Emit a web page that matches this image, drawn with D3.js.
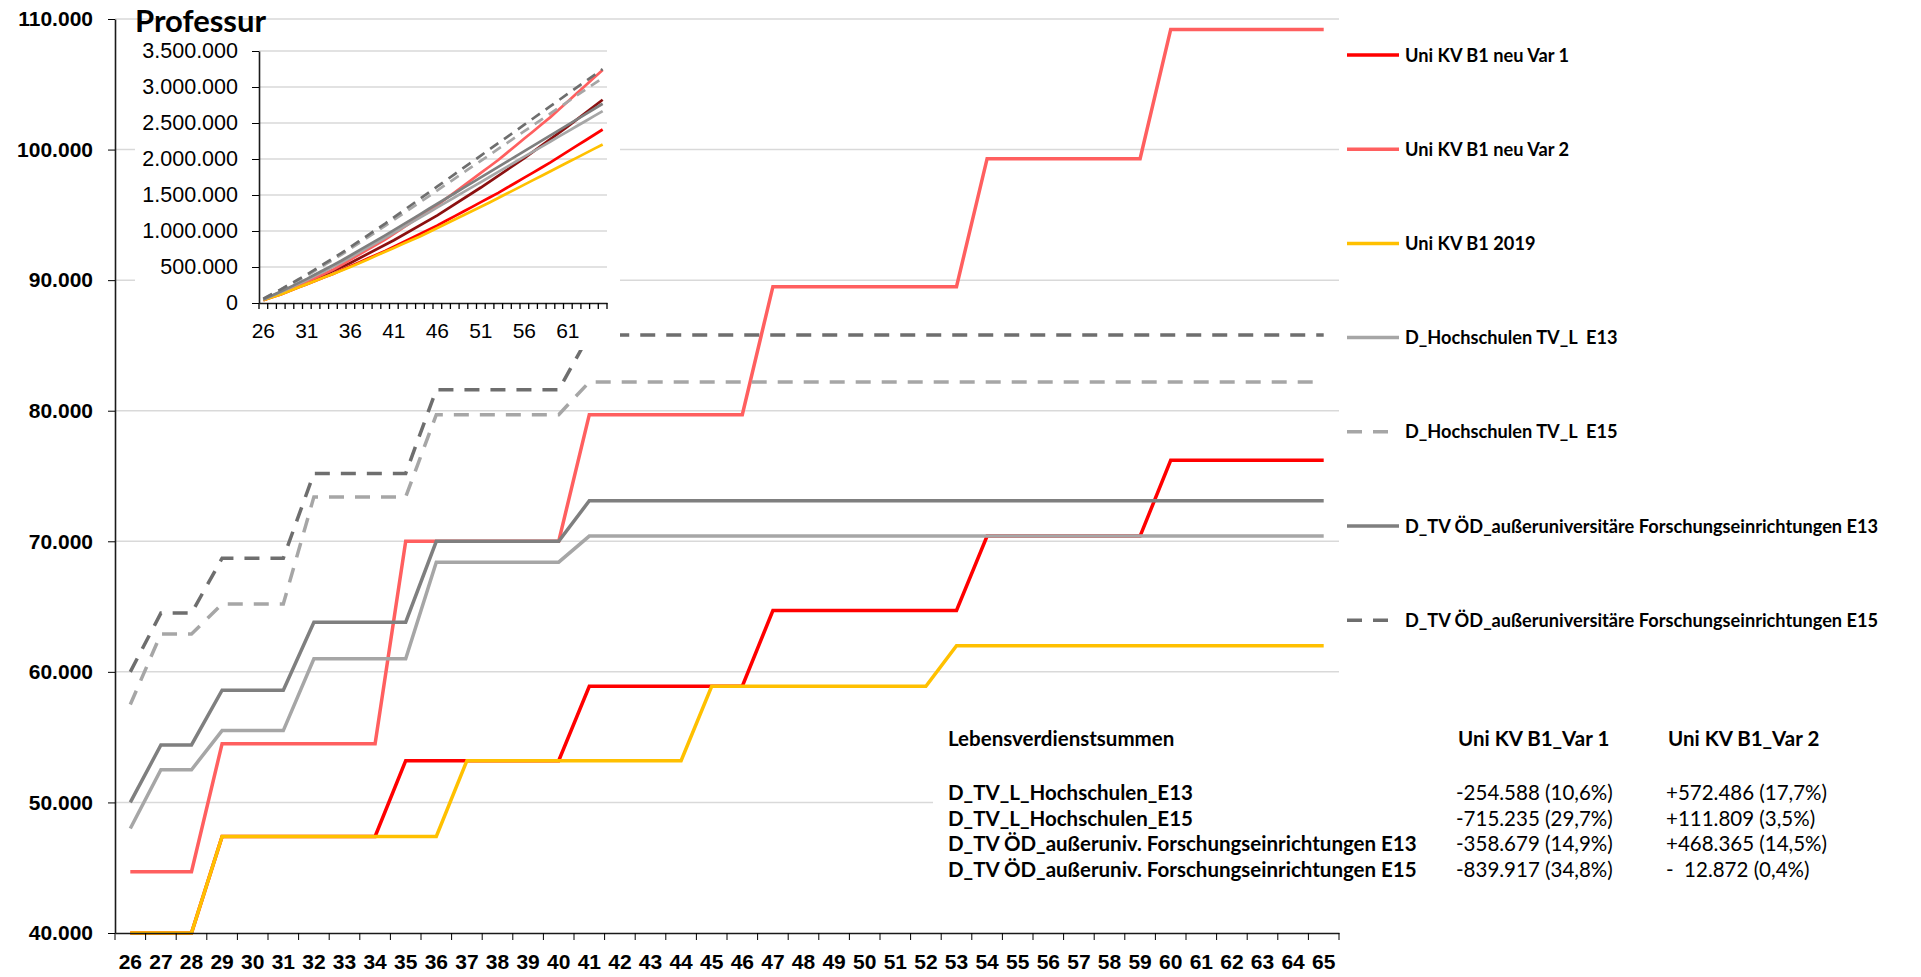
<!DOCTYPE html>
<html>
<head>
<meta charset="utf-8">
<script src="https://cdn.jsdelivr.net/npm/d3@7"></script>
<style>
  html, body { margin: 0; padding: 0; background: #fff; }
  svg { display: block; font-family: Lato, "Open Sans", sans-serif; }
</style>
</head>
<body>
<svg id="chart" width="1921" height="977"></svg>
<script>
// Alter (Kategorien)
const ages = [26, 27, 28, 29, 30, 31, 32, 33, 34, 35, 36, 37, 38, 39, 40, 41, 42, 43, 44, 45,
              46, 47, 48, 49, 50, 51, 52, 53, 54, 55, 56, 57, 58, 59, 60, 61, 62, 63, 64, 65];

// Jahresverdienst je Alter (EUR)
const uniVar1 = [40000, 40000, 40000, 47400, 47400, 47400, 47400, 47400, 47400, 53200,
                 53200, 53200, 53200, 53200, 53200, 58900, 58900, 58900, 58900, 58900,
                 58900, 64700, 64700, 64700, 64700, 64700, 64700, 64700, 70400, 70400,
                 70400, 70400, 70400, 70400, 76200, 76200, 76200, 76200, 76200, 76200];
const uniVar2 = [44700, 44700, 44700, 54500, 54500, 54500, 54500, 54500, 54500, 70000,
                 70000, 70000, 70000, 70000, 70000, 79700, 79700, 79700, 79700, 79700,
                 79700, 89500, 89500, 89500, 89500, 89500, 89500, 89500, 99300, 99300,
                 99300, 99300, 99300, 99300, 109200, 109200, 109200, 109200, 109200, 109200];
const uni2019 = [40000, 40000, 40000, 47400, 47400, 47400, 47400, 47400, 47400, 47400,
                 47400, 53200, 53200, 53200, 53200, 53200, 53200, 53200, 53200, 58900,
                 58900, 58900, 58900, 58900, 58900, 58900, 58900, 62000, 62000, 62000,
                 62000, 62000, 62000, 62000, 62000, 62000, 62000, 62000, 62000, 62000];
const hsE13 = [48000, 52500, 52500, 55500, 55500, 55500, 61000, 61000, 61000, 61000,
               68400, 68400, 68400, 68400, 68400, 70400, 70400, 70400, 70400, 70400,
               70400, 70400, 70400, 70400, 70400, 70400, 70400, 70400, 70400, 70400,
               70400, 70400, 70400, 70400, 70400, 70400, 70400, 70400, 70400, 70400];
const hsE15 = [57500, 62900, 62900, 65200, 65200, 65200, 73400, 73400, 73400, 73400,
               79700, 79700, 79700, 79700, 79700, 82200, 82200, 82200, 82200, 82200,
               82200, 82200, 82200, 82200, 82200, 82200, 82200, 82200, 82200, 82200,
               82200, 82200, 82200, 82200, 82200, 82200, 82200, 82200, 82200, 82200];
const oedE13 = [50000, 54400, 54400, 58600, 58600, 58600, 63800, 63800, 63800, 63800,
                70000, 70000, 70000, 70000, 70000, 73100, 73100, 73100, 73100, 73100,
                73100, 73100, 73100, 73100, 73100, 73100, 73100, 73100, 73100, 73100,
                73100, 73100, 73100, 73100, 73100, 73100, 73100, 73100, 73100, 73100];
const oedE15 = [60000, 64500, 64500, 68700, 68700, 68700, 75200, 75200, 75200, 75200,
                81600, 81600, 81600, 81600, 81600, 85800, 85800, 85800, 85800, 85800,
                85800, 85800, 85800, 85800, 85800, 85800, 85800, 85800, 85800, 85800,
                85800, 85800, 85800, 85800, 85800, 85800, 85800, 85800, 85800, 85800];

const seriesNames = ["Uni KV B1 neu Var 1", "Uni KV B1 neu Var 2", "Uni KV B1 2019",
                     "D_Hochschulen TV_L  E13", "D_Hochschulen TV_L  E15",
                     "D_TV ÖD_außeruniversitäre Forschungseinrichtungen E13",
                     "D_TV ÖD_außeruniversitäre Forschungseinrichtungen E15"];
const seriesColors = ["#ff0000", "#ff5f5f", "#ffc000", "#a6a6a6", "#a6a6a6", "#7f7f7f", "#6e6e6e"];
const seriesDashed = [false, false, false, false, true, false, true];

// Achsen
const mainTicks = [40000, 50000, 60000, 70000, 80000, 90000, 100000, 110000];
const insetTicks = [0, 500000, 1000000, 1500000, 2000000, 2500000, 3000000, 3500000];
const insetLabelAges = [26, 31, 36, 41, 46, 51, 56, 61];

// zusätzliche dunkelrote Linie im kleinen Diagramm
const extraAges = [26, 31, 36, 41, 46, 51, 56, 61, 65];
const extraValues = [42000, 280000, 556000, 872000, 1218000, 1604000, 2013000, 2453000, 2823000];

// Tabelle
const tableTitle = "Lebensverdienstsummen";
const tableHeads = ["Uni KV B1_Var 1", "Uni KV B1_Var 2"];
const tableRows = ["D_TV_L_Hochschulen_E13", "D_TV_L_Hochschulen_E15",
                   "D_TV ÖD_außeruniv. Forschungseinrichtungen E13",
                   "D_TV ÖD_außeruniv. Forschungseinrichtungen E15"];
const tableVar1 = ["-254.588 (10,6%)", "-715.235 (29,7%)", "-358.679 (14,9%)", "-839.917 (34,8%)"];
const tableVar2 = ["+572.486 (17,7%)", "+111.809 (3,5%)", "+468.365 (14,5%)", "-  12.872 (0,4%)"];

const series = [uniVar1, uniVar2, uni2019, hsE13, hsE15, oedE13, oedE15];

const de = d3.formatLocale({decimal: ",", thousands: ".", grouping: [3], currency: ["", "€"]});
const fmt = de.format(",.0f");

const svg = d3.select("#chart");

// Hauptdiagramm
const x = d3.scaleBand().domain(ages).range([115, 1339]);
const y = d3.scaleLinear().domain([40000, 110000]).range([933, 19]);
const cx = a => x(a) + x.bandwidth() / 2;

svg.append("g")
  .selectAll("line")
  .data(mainTicks.slice(1))
  .join("line")
  .attr("x1", 115).attr("x2", 1339)
  .attr("y1", d => y(d)).attr("y2", d => y(d))
  .attr("stroke", "#d9d9d9").attr("stroke-width", 1.5);

const line = d3.line().x((d, i) => cx(ages[i])).y(d => y(d));

svg.append("g")
  .selectAll("path")
  .data(series)
  .join("path")
  .attr("d", line)
  .attr("fill", "none")
  .attr("stroke", (d, i) => seriesColors[i])
  .attr("stroke-width", 3.5)
  .attr("stroke-dasharray", (d, i) => seriesDashed[i] ? "15,11" : null);

// weiße Flächen von Tabelle und kleinem Diagramm
svg.append("rect").attr("x", 933).attr("y", 692).attr("width", 420).attr("height", 200).attr("fill", "#fff");
svg.append("rect").attr("x", 135).attr("y", 24).attr("width", 485).attr("height", 326).attr("fill", "#fff");

const yAxis = svg.append("g")
  .attr("transform", "translate(115,0)")
  .call(d3.axisLeft(y).tickValues(mainTicks).tickFormat(fmt).tickSize(7).tickSizeOuter(0).tickPadding(15));
yAxis.selectAll("text").attr("font-size", 21).attr("font-weight", "bold").attr("fill", "#000");

const xAxis = svg.append("g")
  .attr("transform", "translate(0,933)")
  .call(d3.axisBottom(x).tickSize(0).tickSizeOuter(0).tickPadding(21));
xAxis.selectAll("text").attr("font-size", 21).attr("font-weight", "bold").attr("fill", "#000");
xAxis.append("g")
  .selectAll("line")
  .data(ages.map(a => x(a)).concat([x.range()[1]]))
  .join("line")
  .attr("x1", d => d).attr("x2", d => d)
  .attr("y1", 0).attr("y2", 7)
  .attr("stroke", "#000");

// kleines Diagramm: Lebensverdienstsummen (kumuliert)
const xi = d3.scaleBand().domain(ages).range([259, 607]);
const yi = d3.scaleLinear().domain([0, 3500000]).range([303, 51]);
const cxi = a => xi(a) + xi.bandwidth() / 2;

svg.append("g")
  .selectAll("line")
  .data(insetTicks.slice(1))
  .join("line")
  .attr("x1", 259).attr("x2", 607)
  .attr("y1", d => yi(d)).attr("y2", d => yi(d))
  .attr("stroke", "#d9d9d9").attr("stroke-width", 1.5);

const lineInset = d3.line().x((d, i) => cxi(ages[i])).y(d => yi(d));

svg.append("path")
  .attr("d", d3.line().x((d, i) => cxi(extraAges[i])).y(d => yi(d))(extraValues))
  .attr("fill", "none").attr("stroke", "#8b1010").attr("stroke-width", 2.7);

svg.append("g")
  .selectAll("path")
  .data(series.map(s => Array.from(d3.cumsum(s))))
  .join("path")
  .attr("d", lineInset)
  .attr("fill", "none")
  .attr("stroke", (d, i) => seriesColors[i])
  .attr("stroke-width", 2.7)
  .attr("stroke-dasharray", (d, i) => seriesDashed[i] ? "10,7" : null);

const yAxisI = svg.append("g")
  .attr("transform", "translate(259,0)")
  .call(d3.axisLeft(yi).tickValues(insetTicks).tickFormat(fmt).tickSize(7).tickSizeOuter(0).tickPadding(14));
yAxisI.selectAll("text").attr("font-size", 21.5).attr("fill", "#000");

const xAxisI = svg.append("g")
  .attr("transform", "translate(0,303)")
  .call(d3.axisBottom(xi).tickValues(insetLabelAges).tickSize(0).tickSizeOuter(0).tickPadding(20));
xAxisI.selectAll("text").attr("font-size", 21).attr("fill", "#000");
xAxisI.append("g")
  .selectAll("line")
  .data(ages.map(a => xi(a)).concat([xi.range()[1]]))
  .join("line")
  .attr("x1", d => d).attr("x2", d => d)
  .attr("y1", 0).attr("y2", 6)
  .attr("stroke", "#000").attr("stroke-width", 1.3);

svg.selectAll(".domain").attr("stroke", "#1a1a1a").attr("stroke-width", 1.6);

// Legende
const legend = svg.append("g")
  .selectAll("g")
  .data(seriesNames)
  .join("g")
  .attr("transform", (d, i) => `translate(1347,${55 + i * 94.2})`);
legend.append("line")
  .attr("x1", 0).attr("x2", 52)
  .attr("stroke", (d, i) => seriesColors[i])
  .attr("stroke-width", 3.5)
  .attr("stroke-dasharray", (d, i) => seriesDashed[i] ? "15,11" : null);
legend.append("text")
  .attr("x", 58).attr("dy", "0.36em")
  .attr("font-size", 18.2).attr("font-weight", "bold")
  .style("white-space", "pre")
  .text(d => d);

// Tabelle
const tbl = svg.append("g").attr("font-size", 20.5);
tbl.append("text").attr("x", 948).attr("y", 746).attr("font-weight", "bold").text(tableTitle);
tbl.selectAll(".head").data(tableHeads).join("text")
  .attr("class", "head")
  .attr("x", (d, i) => [1458, 1668][i]).attr("y", 746)
  .attr("font-weight", "bold").text(d => d);
tbl.selectAll(".row").data(tableRows).join("text")
  .attr("class", "row")
  .attr("x", 948).attr("y", (d, i) => 800 + i * 25.7)
  .attr("font-weight", "bold").text(d => d);
tbl.selectAll(".v1").data(tableVar1).join("text")
  .attr("class", "v1")
  .attr("x", 1456).attr("y", (d, i) => 800 + i * 25.7).text(d => d);
tbl.selectAll(".v2").data(tableVar2).join("text")
  .attr("class", "v2")
  .attr("x", 1666).attr("y", (d, i) => 800 + i * 25.7)
  .style("white-space", "pre").text(d => d);

// Titel
svg.append("text")
  .attr("x", 135).attr("y", 32)
  .attr("font-size", 31).attr("font-weight", "bold")
  .text("Professur");
</script>
</body>
</html>
